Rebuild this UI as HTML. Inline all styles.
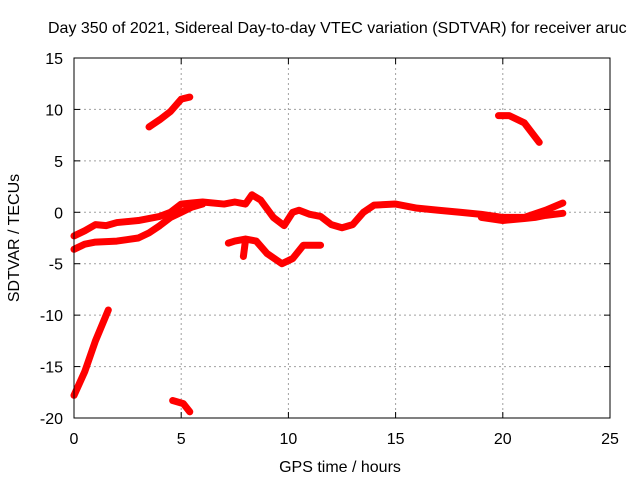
<!DOCTYPE html>
<html><head><meta charset="utf-8"><style>
body{margin:0;background:#fff}
svg{display:block;font-family:"Liberation Sans",sans-serif;font-size:16px}
</style></head><body>
<svg id="c" width="640" height="480">
<text x="48" y="33">Day 350 of 2021, Sidereal Day-to-day VTEC variation (SDTVAR) for receiver aruc</text>
<text x="340" y="472" text-anchor="middle">GPS time / hours</text>
<text transform="translate(19,238) rotate(-90)" text-anchor="middle">SDTVAR / TECUs</text>
<g id="grid"></g><g id="marks"></g><g id="axes"></g>
</svg>
<script>
const xTicks=[0,5,10,15,20,25];
const yTicks=[15,10,5,0,-5,-10,-15,-20];
const seriesUpperBand=[[0,-2.3],[0.5,-1.8],[1,-1.2],[1.5,-1.3],[2,-1],[3,-0.8],[4,-0.4],[4.5,0],[5,0.8],[5.5,0.9],[6,1],[7,0.8],[7.5,1],[8,0.8],[8.3,1.7],[8.7,1.2],[9.3,-0.5],[9.8,-1.3],[10.2,0],[10.5,0.2],[11,-0.2],[11.5,-0.4],[12,-1.2],[12.5,-1.5],[13,-1.2],[13.5,0],[14,0.7],[15,0.8],[16,0.4],[17,0.2],[18,0],[19,-0.2],[20,-0.5],[21,-0.5],[22,0.2],[22.8,0.9]];
const seriesLowerBand=[[0,-3.6],[0.5,-3.1],[1,-2.9],[2,-2.8],[3,-2.5],[3.5,-2],[4,-1.3],[4.5,-0.5],[5,0],[5.5,0.5],[6,0.8]];
const seriesLateBand=[[19,-0.5],[20,-0.8],[21,-0.6],[21.5,-0.5],[22,-0.3],[22.8,-0.1]];
const seriesDetour=[[7.2,-3],[7.5,-2.8],[8,-2.6],[8.5,-2.8],[9,-4],[9.7,-5],[10.2,-4.5],[10.7,-3.2],[11.5,-3.2]];
const seriesBranch=[[8,-2.7],[7.9,-4.3]];
const seriesHigh1=[[3.5,8.3],[4,9],[4.5,9.8],[5,11],[5.4,11.2]];
const seriesHigh2=[[19.8,9.4],[20.3,9.4],[21,8.7],[21.7,6.8]];
const seriesLow1=[[0,-17.8],[0.5,-15.5],[1,-12.5],[1.6,-9.5]];
const seriesLow2=[[4.6,-18.3],[5.1,-18.6],[5.4,-19.4]];
const allSeries=[seriesUpperBand,seriesLowerBand,seriesLateBand,seriesDetour,seriesBranch,seriesHigh1,seriesHigh2,seriesLow1,seriesLow2];
const seriesNames=['series-upper-band','series-lower-band','series-late-band','series-detour','series-branch','series-high-1','series-high-2','series-low-1','series-low-2'];
const L=74,R=610,T=58,B=418;
const xs=v=>L+(v-0)/25*(R-L);
const ys=v=>T+(15-v)/35*(B-T);
const NS='http://www.w3.org/2000/svg';
function mk(t,a,p){const e=document.createElementNS(NS,t);for(const k in a)e.setAttribute(k,a[k]);p.appendChild(e);return e;}
const grid=document.getElementById('grid'),axes=document.getElementById('axes'),marks=document.getElementById('marks');
xTicks.forEach(v=>{const x=xs(v);
 if(v>0&&v<25){const g=mk('line',{x1:x,x2:x,y1:T,y2:B,stroke:'#a0a0a0','stroke-dasharray':'2,3'},grid);
 }
 mk('line',{x1:x,x2:x,y1:B,y2:B-6,stroke:'#000'},axes);mk('line',{x1:x,x2:x,y1:T,y2:T+6,stroke:'#000'},axes);
 const t=mk('text',{x:x,y:B+26,'text-anchor':'middle'},axes);t.textContent=v;
 });
yTicks.forEach(v=>{const y=ys(v);
 if(v<15&&v>-20){const g=mk('line',{x1:L,x2:R,y1:y,y2:y,stroke:'#a0a0a0','stroke-dasharray':'2,3'},grid);
 }
 mk('line',{x1:L,x2:L+6,y1:y,y2:y,stroke:'#000'},axes);mk('line',{x1:R,x2:R-6,y1:y,y2:y,stroke:'#000'},axes);
 const t=mk('text',{x:L-11,y:y+6,'text-anchor':'end'},axes);t.textContent=v;
 });
const fr=mk('rect',{x:L,y:T,width:R-L,height:B-T,fill:'none',stroke:'#000'},axes);

allSeries.forEach((s,i)=>{
 const p=mk('polyline',{points:s.map(d=>xs(d[0])+','+ys(d[1])).join(' '),fill:'none',stroke:'#ff0000','stroke-width':7,'stroke-linejoin':'round','stroke-linecap':'round'},marks);
 
 
});
</script>
</body></html>
